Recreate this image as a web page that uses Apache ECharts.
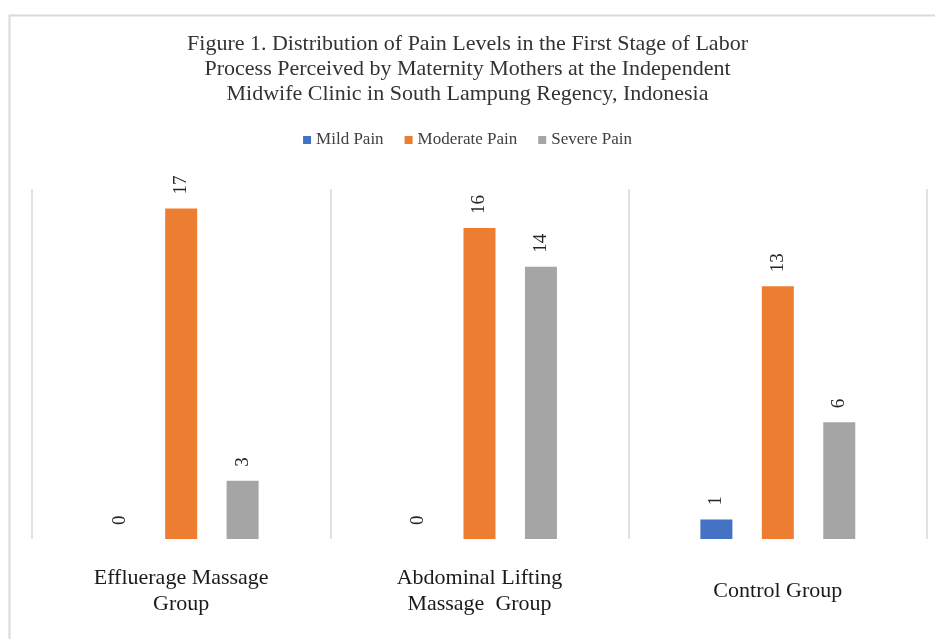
<!DOCTYPE html>
<html>
<head>
<meta charset="utf-8">
<script src="https://cdn.jsdelivr.net/npm/echarts@6/dist/echarts.min.js"></script>
<style>
html,body{margin:0;padding:0;background:#fff;}
#c{width:935px;height:639px;}
</style>
</head>
<body>
<div id="c"></div>
<script>
var categories = ['Effluerage Massage\nGroup', 'Abdominal Lifting\nMassage  Group', 'Control Group'];
var seriesNames = ['Mild Pain', 'Moderate Pain', 'Severe Pain'];
var mildPain = [0, 0, 1];
var moderatePain = [17, 16, 13];
var severePain = [3, 14, 6];
var colors = ['#4472c4', '#ed7d31', '#a5a5a5'];
var titleText = 'Figure 1. Distribution of Pain Levels in the First Stage of Labor\nProcess Perceived by Maternity Mothers at the Independent\nMidwife Clinic in South Lampung Regency, Indonesia';

var FONT = '"Liberation Serif", "Times New Roman", serif';
var chart = echarts.init(document.getElementById('c'));

function mk(name, data, color) {
  return {
    name: name,
    type: 'bar',
    data: data,
    barWidth: 32,
    barGap: '92%',
    itemStyle: { color: color },
    label: {
      show: true,
      position: 'top',
      rotate: 90,
      align: 'left',
      verticalAlign: 'middle',
      distance: 14,
      fontFamily: FONT,
      fontSize: 19,
      color: '#262626'
    }
  };
}

chart.setOption({
  backgroundColor: '#fff',
  animation: false,
  graphic: [{
    type: 'rect',
    shape: { x: 9.5, y: 15.5, width: 940, height: 640 },
    style: { fill: 'none', stroke: '#d9d9d9', lineWidth: 2 },
    silent: true
  }],
  title: {
    text: titleText,
    left: 'center',
    top: 32,
    padding: 0,
    textStyle: {
      fontFamily: FONT,
      fontSize: 22,
      fontWeight: 'normal',
      lineHeight: 25,
      align: 'center',
      color: '#333333'
    }
  },
  legend: {
    data: seriesNames,
    top: 126,
    left: 'center',
    itemWidth: 8,
    itemHeight: 8,
    itemGap: 21,
    icon: 'rect',
    textStyle: {
      fontFamily: FONT,
      fontSize: 17,
      lineHeight: 18,
      color: '#404040'
    }
  },
  grid: { left: 32, right: 8, top: 189, bottom: 100 },
  xAxis: {
    type: 'category',
    data: categories,
    axisLine: { show: false },
    axisTick: { show: false },
    splitLine: { show: true, lineStyle: { color: '#d9d9d9', width: 1.5 } },
    axisLabel: {
      interval: 0,
      margin: 52,
      verticalAlign: 'middle',
      fontFamily: FONT,
      fontSize: 22,
      lineHeight: 26,
      color: '#1a1a1a'
    }
  },
  yAxis: {
    type: 'value',
    min: 0,
    max: 18,
    show: false,
    splitLine: { show: false }
  },
  series: [
    mk(seriesNames[0], mildPain, colors[0]),
    mk(seriesNames[1], moderatePain, colors[1]),
    mk(seriesNames[2], severePain, colors[2])
  ]
});
</script>
</body>
</html>
